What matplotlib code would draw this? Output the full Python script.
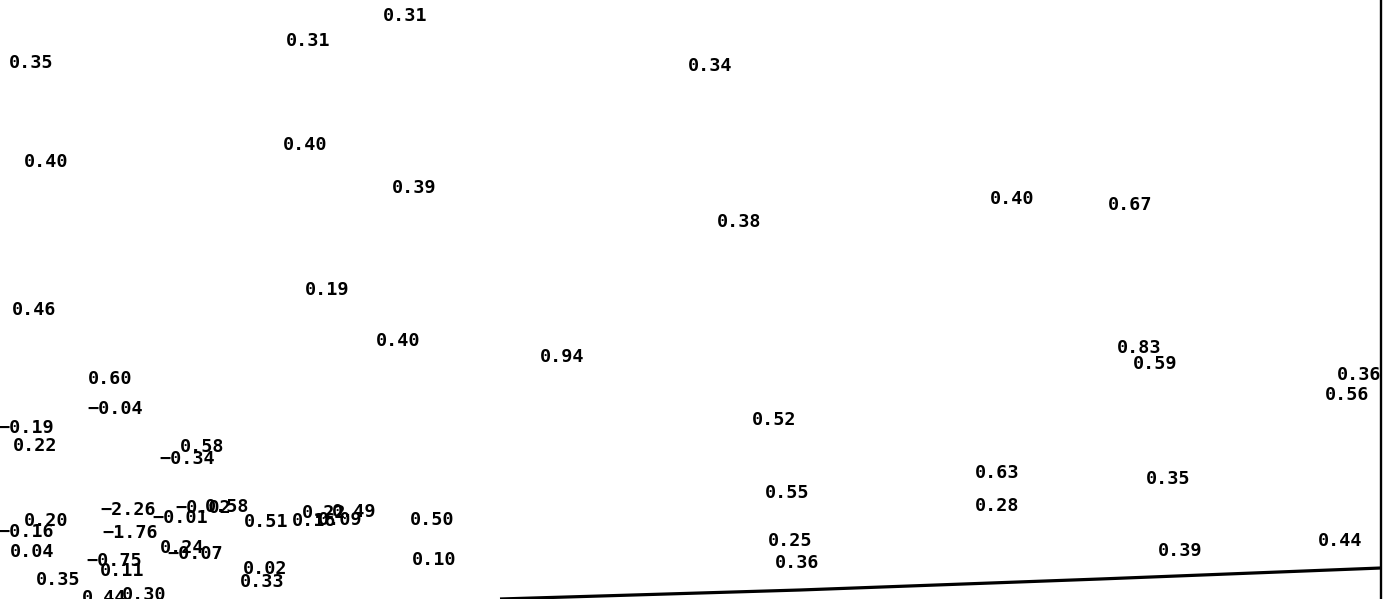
import matplotlib.pyplot as plt

# label text and where it sits on the sheet (left edge x, centre y, in pixels)
labels = ['0.31', '0.31', '0.35', '0.34', '0.40', '0.40', '0.39', '0.40', '0.67', '0.38',
          '0.19', '0.46', '0.40', '0.94', '0.83', '0.59', '0.36', '0.56', '0.60', '-0.04',
          '0.52', '-0.19', '0.22', '0.58', '-0.34', '0.63', '0.35', '0.55', '0.28',
          '-2.26', '-0.02', '0.58', '-0.01', '0.51', '0.22', '0.49', '0.16', '0.09', '0.50',
          '0.20', '-0.16', '-1.76', '0.04', '-0.75', '0.11', '0.24', '-0.07', '0.02', '0.33',
          '0.10', '0.25', '0.36', '0.39', '0.44', '0.35', '0.44', '0.30']
xs = [383, 286, 9, 688, 283, 24, 392, 990, 1108, 717,
      305, 12, 376, 540, 1117, 1133, 1337, 1325, 88, 87,
      752, -2, 13, 180, 159, 975, 1146, 765, 975,
      100, 175, 205, 152, 244, 302, 332, 292, 318, 410,
      24, -2, 102, 10, 86, 100, 160, 167, 243, 240,
      412, 768, 775, 1158, 1318, 36, 82, 122]
ys = [16, 41, 63, 66, 145, 162, 188, 199, 205, 222,
      290, 310, 341, 357, 348, 364, 375, 395, 379, 409,
      420, 428, 446, 447, 459, 473, 479, 493, 506,
      510, 508, 507, 518, 522, 513, 512, 521, 520, 520,
      521, 532, 533, 552, 561, 571, 548, 554, 569, 582,
      560, 541, 563, 551, 541, 580, 598, 595]

# the two drawn rules: slanted base and right-hand upright
base_x = [500, 800, 1100, 1381]
base_y = [599, 590, 579, 568]
edge_x = [1381, 1381]
edge_y = [0, 599]

fig = plt.figure(figsize=(13.99, 5.99), dpi=100)
ax = fig.add_axes([0, 0, 1, 1])
ax.set_xlim(0, 1399)
ax.set_ylim(599, 0)
ax.axis('off')

ax.plot(base_x, base_y, color='black', lw=2.3, solid_capstyle='butt')
ax.plot(edge_x, edge_y, color='black', lw=1.7)

for t, x, y in zip(labels, xs, ys):
    ax.text(x, y, t.replace('-', '\u2212'), ha='left', va='center', fontsize=13.3,
            family='DejaVu Sans Mono', fontweight='bold', color='black')

fig.savefig('out.png', dpi=100, facecolor='white')
